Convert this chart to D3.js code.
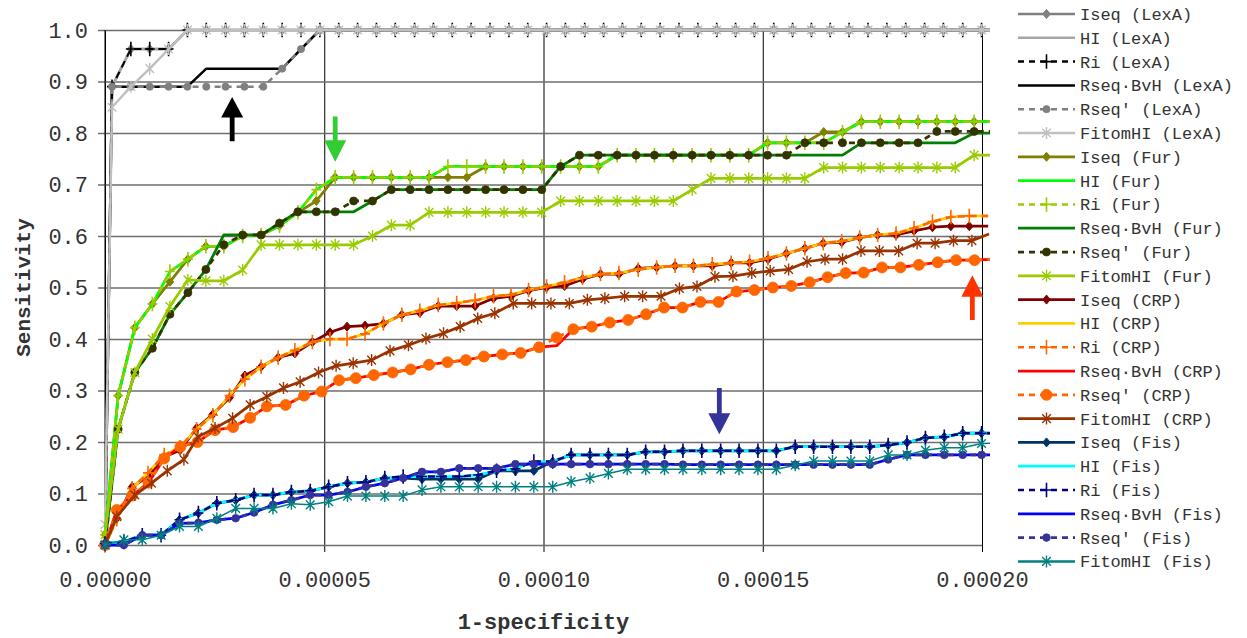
<!DOCTYPE html>
<html>
<head>
<meta charset="utf-8">
<script src="https://cdn.jsdelivr.net/npm/d3@7"></script>
<style>
body { margin: 0; background: #fff; }
text { font-family: "Liberation Mono", "Courier New", monospace; fill: #333; }
</style>
</head>
<body>
<svg id="chart" width="1247" height="638"></svg>
<script>
// 1-specificity values are kept in units of 1e-6
var xTicks = [0, 50, 100, 150, 200];
var yTicks = [0, 0.1, 0.2, 0.3, 0.4, 0.5, 0.6, 0.7, 0.8, 0.9, 1.0];

// ---- LexA ----
var fprLexA = [0, 1.6, 5.9, 10.2, 14.5, 18.8, 23.1, 27.5, 31.8, 36.1, 40.4, 44.7, 49.0, 53.3, 57.6, 61.9, 66.2, 70.6, 74.9, 79.2, 83.5, 87.8, 92.1, 96.4, 100.7, 105.0, 109.4, 113.7, 118.0, 122.3, 126.6, 130.9, 135.2, 139.5, 143.8, 148.1, 152.5, 156.8, 161.1, 165.4, 169.7, 174.0, 178.3, 182.6, 186.9, 191.2, 195.6, 199.9, 204.2];
var iseqLexA = [0, .89, .963, .963, .963,
  1,1,1,1,1,1,1,1,1,1,1, 1,1,1,1,1,1,1,1,1,1,1, 1,1,1,1,1,1,1,1,1,1,1, 1,1,1,1,1,1,1,1,1,1,1];
var hiLexA = [0, .89, .963, .963, .963,
  1,1,1,1,1,1,1,1,1,1,1, 1,1,1,1,1,1,1,1,1,1,1, 1,1,1,1,1,1,1,1,1,1,1, 1,1,1,1,1,1,1,1,1,1,1];
var riLexA = [0, .89, .963, .963, .963,
  1,1,1,1,1,1,1,1,1,1,1, 1,1,1,1,1,1,1,1,1,1,1, 1,1,1,1,1,1,1,1,1,1,1, 1,1,1,1,1,1,1,1,1,1,1];
var bvhLexA = [0, .89, .89, .89, .89, .89, .925, .925, .925, .925, .925, .963,
  1,1,1,1,1,1,1,1,1,1,1,1, 1,1,1,1,1,1,1,1,1,1,1,1, 1,1,1,1,1,1,1,1,1,1,1,1, 1];
var rseqLexA = [0, .89, .89, .89, .89, .89, .89, .89, .89, .89, .925, .963,
  1,1,1,1,1,1,1,1,1,1,1,1, 1,1,1,1,1,1,1,1,1,1,1,1, 1,1,1,1,1,1,1,1,1,1,1,1, 1];
var fitomLexA = [.04, .85, .89, .925, .963,
  1,1,1,1,1,1,1,1,1,1,1, 1,1,1,1,1,1,1,1,1,1,1, 1,1,1,1,1,1,1,1,1,1,1, 1,1,1,1,1,1,1,1,1,1,1];

// ---- Fur ----
var fprFur = [0, 3.0, 6.8, 10.8, 14.8, 18.9, 23.0, 27.1, 31.4, 35.6, 39.8, 44.0, 48.2, 52.5, 56.7, 61.0, 65.3, 69.6, 73.9, 78.2, 82.5, 86.8, 91.0, 95.3, 99.6, 103.9, 108.2, 112.5, 116.8, 121.1, 125.3, 129.6, 133.9, 138.2, 142.5, 146.8, 151.1, 155.4, 159.6, 163.9, 168.2, 172.5, 176.8, 181.1, 185.4, 189.7, 193.9, 198.2, 202.5];
var iseqFur = [.02, .29, .422, .468, .511, .555, .58, .58, .60, .602,
  .62, .646, .668, .714, .714, .714, .714, .714, .714, .714,
  .714, .735, .735, .735, .735, .735, .735, .735, .757, .757,
  .757, .757, .757, .757, .757, .757, .781, .781, .781, .802,
  .802, .822, .822, .822, .822, .822, .822, .822, .822];
var hiFur = [.02, .29, .422, .468, .531, .555, .58, .58, .60, .602,
  .62, .646, .69, .714, .714, .714, .714, .714, .714, .735,
  .735, .735, .735, .735, .735, .735, .735, .735, .757, .757,
  .757, .757, .757, .757, .757, .757, .781, .781, .781, .781,
  .802, .822, .822, .822, .822, .822, .822, .822, .822];
var riFur = [.02, .29, .422, .468, .531, .555, .58, .58, .60, .602,
  .62, .646, .69, .714, .714, .714, .714, .714, .714, .735,
  .735, .735, .735, .735, .735, .735, .735, .735, .757, .757,
  .757, .757, .757, .757, .757, .757, .781, .781, .781, .781,
  .802, .822, .822, .822, .822, .822, .822, .822, .822];
var bvhFur = [0, .225, .335, .382, .448, .49, .535, .602, .602, .602,
  .625, .647, .647, .647, .647, .668, .69, .69, .69, .69,
  .69, .69, .69, .69, .69, .735, .757, .757, .757, .757,
  .757, .757, .757, .757, .757, .757, .757, .757, .757, .757,
  .757, .781, .781, .781, .781, .781, .781, .80, .80];
var rseqFur = [0, .225, .335, .382, .448, .49, .535, .583, .602, .602,
  .625, .647, .647, .647, .668, .668, .69, .69, .69, .69,
  .69, .69, .69, .69, .69, .735, .757, .757, .757, .757,
  .757, .757, .757, .757, .757, .757, .757, .757, .781, .781,
  .781, .781, .781, .781, .781, .803, .803, .803, .803];
var fitomFur = [.02, .225, .335, .40, .463, .515, .513, .513, .534, .583,
  .583, .583, .583, .583, .583, .60, .621, .621, .646, .646,
  .646, .646, .646, .646, .646, .668, .668, .668, .668, .668,
  .668, .668, .69, .712, .712, .712, .712, .712, .712, .733,
  .733, .733, .733, .733, .733, .733, .733, .757, .757];

// ---- CRP ----
var fprCrpA = [0, 2.7, 6.2, 9.8, 13.5, 17.1, 20.9, 24.6, 28.4, 31.9, 35.6, 39.5, 43.3, 47.3, 51.3, 55.2, 59.3, 63.5, 67.7, 71.8, 76.0, 80.2, 84.4, 88.6, 92.6, 96.6, 100.7, 104.8, 108.9, 113.0, 117.2, 121.6, 125.8, 130.0, 134.2, 138.5, 142.8, 147.0, 151.2, 155.4, 159.6, 163.8, 168.0, 172.1, 176.2, 180.4, 184.5, 188.7, 192.9, 197.1, 201.4];
var fprCrpB = [0, 2.7, 6.2, 9.9, 13.5, 17.2, 21.1, 25.1, 29.2, 33.1, 36.9, 41.2, 45.4, 49.4, 53.4, 57.2, 61.3, 65.6, 69.7, 73.9, 78.1, 82.3, 86.4, 90.6, 94.8, 99.0, 103.0, 106.8, 111.0, 115.1, 119.3, 123.4, 127.5, 131.7, 135.8, 139.9, 144.0, 148.1, 152.3, 156.5, 160.7, 164.8, 168.9, 173.0, 177.2, 181.4, 185.6, 189.9, 194.1, 198.3, 202.5];
var fprCrpC = [0, 2.7, 6.8, 10.6, 14.2, 18.0, 21.2, 25.1, 29.1, 33.1, 36.9, 40.7, 44.5, 48.7, 52.7, 56.6, 60.8, 65.0, 69.2, 73.2, 77.2, 81.0, 85.0, 88.9, 93.1, 97.3, 101.7, 105.9, 110.0, 114.0, 118.5, 122.6, 126.8, 131.0, 135.0, 139.1, 143.2, 147.5, 151.7, 155.9, 160.1, 164.2, 168.2, 172.4, 176.6, 181.0, 185.2, 189.3, 193.5, 197.7, 201.6];
var iseqCrp = [0, .052, .113, .133, .171, .184, .227, .254, .286, .329,
  .346, .364, .372, .394, .413, .424, .426, .43, .447, .451,
  .464, .464, .464, .479, .483, .494, .50, .503, .516, .526,
  .526, .537, .539, .542, .542, .542, .548, .548, .555, .566,
  .576, .586, .588, .597, .602, .602, .61, .617, .619, .619, .619];
var hiCrp = [0, .05, .11, .14, .175, .19, .225, .252, .29, .322,
  .346, .364, .378, .394, .40, .40, .41, .43, .447, .455,
  .466, .47, .475, .483, .486, .495, .502, .51, .519, .526,
  .528, .535, .539, .542, .542, .545, .548, .55, .557, .566,
  .576, .586, .59, .597, .602, .605, .615, .628, .637, .639, .639];
var riCrp = [0, .05, .11, .14, .175, .19, .225, .252, .29, .322,
  .346, .364, .378, .394, .40, .40, .41, .43, .447, .455,
  .466, .47, .475, .483, .486, .495, .502, .51, .519, .526,
  .528, .535, .539, .542, .542, .545, .548, .55, .557, .566,
  .576, .586, .59, .597, .602, .605, .615, .628, .637, .639, .639];
var bvhCrp = [0, .068, .096, .121, .168, .191, .20, .223, .229, .247,
  .269, .272, .29, .298, .32, .324, .33, .335, .341, .35,
  .355, .359, .366, .37, .373, .384, .387, .419, .424, .432,
  .437, .448, .461, .461, .472, .472, .492, .495, .50, .503,
  .51, .52, .528, .529, .539, .539, .544, .549, .553, .553, .555];
var rseqCrp = [0, .068, .096, .121, .168, .191, .20, .223, .229, .247,
  .269, .272, .29, .298, .32, .324, .33, .335, .341, .35,
  .355, .359, .366, .37, .373, .384, .403, .419, .424, .432,
  .437, .448, .461, .461, .472, .472, .492, .495, .50, .503,
  .51, .52, .528, .529, .539, .539, .544, .549, .553, .553, .555];
var fitomCrp = [0, .055, .097, .12, .144, .166, .21, .227, .246, .272,
  .288, .305, .317, .335, .348, .353, .359, .377, .388, .401,
  .411, .424, .44, .45, .469, .469, .469, .469, .476, .479,
  .483, .483, .483, .498, .502, .521, .522, .528, .532, .535,
  .55, .555, .555, .571, .571, .571, .586, .586, .591, .591, .604];

// ---- Fis ----
var fprFis = [0, 4.3, 8.5, 12.8, 17.0, 21.3, 25.5, 29.8, 34.0, 38.3, 42.5, 46.8, 51.0, 55.3, 59.5, 63.8, 68.0, 72.3, 76.6, 80.8, 85.1, 89.3, 93.6, 97.8, 102.1, 106.3, 110.6, 114.8, 119.1, 123.3, 127.6, 131.8, 136.1, 140.4, 144.6, 148.9, 153.1, 157.4, 161.6, 165.9, 170.1, 174.4, 178.6, 182.9, 187.1, 191.4, 195.6, 199.9, 204.1];
var iseqFis = [.003, .006, .019, .019, .049, .062, .081, .087, .097, .097,
  .103, .105, .113, .12, .122, .13, .13, .128, .128, .128,
  .128, .144, .144, .144, .162, .175, .175, .175, .175, .181,
  .181, .183, .183, .183, .183, .183, .183, .191, .191, .191,
  .191, .191, .194, .199, .208, .21, .217, .217, .217];
var hiFis = [.003, .006, .019, .019, .049, .062, .081, .087, .097, .097,
  .103, .105, .113, .12, .122, .13, .133, .133, .133, .133,
  .136, .144, .148, .162, .162, .175, .175, .175, .175, .181,
  .181, .183, .183, .183, .183, .183, .183, .191, .191, .191,
  .191, .191, .194, .199, .208, .21, .217, .217, .217];
var riFis = [.003, .006, .019, .019, .049, .062, .081, .087, .097, .097,
  .103, .105, .113, .12, .122, .13, .133, .133, .133, .133,
  .136, .144, .148, .162, .162, .175, .175, .175, .175, .181,
  .181, .183, .183, .183, .183, .183, .183, .191, .191, .191,
  .191, .191, .194, .199, .208, .21, .217, .217, .217];
var bvhFis = [0, 0, .019, .019, .042, .043, .049, .052, .063, .078,
  .087, .097, .097, .103, .113, .12, .13, .142, .142, .149,
  .149, .149, .157, .157, .157, .157, .157, .157, .157, .157,
  .157, .156, .156, .156, .156, .156, .156, .156, .156, .156,
  .156, .156, .166, .175, .175, .175, .175, .175, .175];
var rseqFis = [0, 0, .019, .019, .042, .043, .049, .052, .063, .078,
  .087, .097, .097, .103, .113, .12, .13, .142, .142, .149,
  .149, .149, .157, .157, .157, .157, .157, .157, .157, .157,
  .157, .156, .156, .156, .156, .156, .156, .156, .156, .156,
  .156, .156, .166, .175, .175, .175, .175, .175, .175];
var fitomFis = [0, .01, .01, .019, .036, .036, .052, .071, .071, .071,
  .08, .078, .084, .095, .095, .095, .095, .107, .113, .113,
  .113, .113, .113, .113, .113, .123, .13, .139, .147, .147,
  .147, .147, .147, .147, .147, .147, .147, .155, .163, .163,
  .163, .163, .175, .175, .184, .189, .189, .197, .198];

// arrows: x position, tip / head base / tail in sensitivity units
var arrowX = [29.0, 52.5, 140.1, 197.8];
var arrowTip = [.870, .744, .215, .524];
var arrowBase = [.830, .786, .256, .482];
var arrowTail = [.784, .832, .305, .437];
var arrowColors = ["#000000", "#33cc33", "#333399", "#ff3300"];

// series table (legend order = draw order)
var series = [
  {name: "Iseq (LexA)", x: fprLexA, y: iseqLexA, color: "#808080", w: 2.5, mark: "diamond", ms: 4.5},
  {name: "HI (LexA)", x: fprLexA, y: hiLexA, color: "#a6a6a6", w: 2.5},
  {name: "Ri (LexA)", x: fprLexA, y: riLexA, color: "#000000", w: 2, dash: "7,5", mark: "plus", ms: 5},
  {name: "Rseq\u00b7BvH (LexA)", x: fprLexA, y: bvhLexA, color: "#000000", w: 2.5},
  {name: "Rseq' (LexA)", x: fprLexA, y: rseqLexA, color: "#808080", w: 2.5, dash: "6,5", mark: "circle", ms: 3.6},
  {name: "FitomHI (LexA)", x: fprLexA, y: fitomLexA, color: "#c0c0c0", w: 2.5, mark: "star", ms: 6},
  {name: "Iseq (Fur)", x: fprFur, y: iseqFur, color: "#808000", w: 2.75, mark: "diamond", ms: 4.5},
  {name: "HI (Fur)", x: fprFur, y: hiFur, color: "#00ff00", w: 2.75},
  {name: "Ri (Fur)", x: fprFur, y: riFur, color: "#99cc00", w: 2.5, dash: "7,5", mark: "plus", ms: 5},
  {name: "Rseq\u00b7BvH (Fur)", x: fprFur, y: bvhFur, color: "#008000", w: 2.75},
  {name: "Rseq' (Fur)", x: fprFur, y: rseqFur, color: "#333300", w: 2.75, dash: "6,5", mark: "circle", ms: 4},
  {name: "FitomHI (Fur)", x: fprFur, y: fitomFur, color: "#99cc00", w: 2.75, mark: "star", ms: 6},
  {name: "Iseq (CRP)", x: fprCrpA, y: iseqCrp, color: "#800000", w: 2.75, mark: "diamond", ms: 4.5},
  {name: "HI (CRP)", x: fprCrpA, y: hiCrp, color: "#ffcc00", w: 2.75},
  {name: "Ri (CRP)", x: fprCrpA, y: riCrp, color: "#ff6600", w: 2.5, dash: "7,5", mark: "plus", ms: 5},
  {name: "Rseq\u00b7BvH (CRP)", x: fprCrpB, y: bvhCrp, color: "#ff0000", w: 2.75},
  {name: "Rseq' (CRP)", x: fprCrpB, y: rseqCrp, color: "#ff6600", w: 2.75, dash: "6,5", mark: "circle", ms: 5.5},
  {name: "FitomHI (CRP)", x: fprCrpC, y: fitomCrp, color: "#993300", w: 2.75, mark: "star", ms: 6},
  {name: "Iseq (Fis)", x: fprFis, y: iseqFis, color: "#003366", w: 2.75, mark: "diamond", ms: 4.5},
  {name: "HI (Fis)", x: fprFis, y: hiFis, color: "#00ffff", w: 2.75},
  {name: "Ri (Fis)", x: fprFis, y: riFis, color: "#000080", w: 2.5, dash: "7,5", mark: "plus", ms: 5},
  {name: "Rseq\u00b7BvH (Fis)", x: fprFis, y: bvhFis, color: "#0000ff", w: 2.75},
  {name: "Rseq' (Fis)", x: fprFis, y: rseqFis, color: "#333399", w: 2.75, dash: "6,5", mark: "circle", ms: 3.8},
  {name: "FitomHI (Fis)", x: fprFis, y: fitomFis, color: "#008080", w: 1.5, mark: "star", ms: 6}
];

var svg = d3.select("#chart");

var x = d3.scaleLinear().domain([0, 200]).range([105, 982]);
var y = d3.scaleLinear().domain([0, 1]).range([545, 30]);

// vertical gridlines (black) + x ticks
svg.append("g")
  .attr("transform", "translate(0,545)")
  .call(d3.axisBottom(x).tickValues(xTicks).tickSize(-515).tickSizeOuter(0).tickFormat(""))
  .call(g => g.select(".domain").remove())
  .call(g => g.selectAll("line").attr("stroke", "#000").attr("stroke-width", 1));

svg.append("g")
  .attr("transform", "translate(0,545)")
  .call(d3.axisBottom(x).tickValues(xTicks).tickSize(7).tickPadding(19)
    .tickFormat(d => (d * 1e-6).toFixed(5)))
  .call(g => g.select(".domain").remove())
  .call(g => g.selectAll("line").attr("stroke", "#000"))
  .call(g => g.selectAll("text").style("font-size", "22px").attr("fill", "#333")
    .style("font-family", "'Liberation Mono', monospace"));

// horizontal gridlines (gray), sticking out left as ticks
svg.append("g")
  .attr("transform", "translate(105,0)")
  .call(d3.axisLeft(y).tickValues(yTicks).tickSize(-877).tickSizeOuter(0).tickFormat(""))
  .call(g => g.select(".domain").remove())
  .call(g => g.selectAll("line").attr("stroke", "#6e6e6e").attr("stroke-width", 1.5));

svg.append("g")
  .attr("transform", "translate(105,0)")
  .call(d3.axisLeft(y).tickValues(yTicks).tickSize(7).tickPadding(10).tickFormat(d3.format(".1f")))
  .call(g => g.select(".domain").remove())
  .call(g => g.selectAll("line").attr("stroke", "#6e6e6e").attr("stroke-width", 1.5))
  .call(g => g.selectAll("text").style("font-size", "22px").attr("fill", "#333")
    .style("font-family", "'Liberation Mono', monospace"));

// y axis line
svg.append("line")
  .attr("x1", x(0)).attr("x2", x(0)).attr("y1", y(1)).attr("y2", y(0))
  .attr("stroke", "#000").attr("stroke-width", 1);

// axis titles
svg.append("text")
  .attr("x", (x(0) + x(200)) / 2).attr("y", 629)
  .attr("text-anchor", "middle")
  .style("font-size", "22px").style("font-weight", "bold").attr("fill", "#222")
  .text("1-specificity");

svg.append("text")
  .attr("transform", `translate(30, ${(y(0) + y(1)) / 2}) rotate(-90)`)
  .attr("text-anchor", "middle")
  .style("font-size", "21px").style("font-weight", "bold").attr("fill", "#222")
  .text("Sensitivity");

// clip lines just past the right edge
svg.append("clipPath").attr("id", "plotclip")
  .append("rect").attr("x", 95).attr("y", 0).attr("width", 990 - 95).attr("height", 560);

function markerPath(type, s) {
  if (type === "diamond") return `M0,${-s}L${s * 0.85},0L0,${s}L${-s * 0.85},0Z`;
  if (type === "plus") return `M0,${-s * 1.45}V${s * 1.45}M${-s},0H${s}`;
  if (type === "star") {
    var a = s * 0.72;
    return `M0,${-s}V${s}M${-a},${-a}L${a},${a}M${-a},${a}L${a},${-a}`;
  }
  return "";
}

function drawMarker(g, type, s, color) {
  if (type === "circle") {
    g.append("circle").attr("r", s).attr("fill", color).attr("stroke", color).attr("stroke-width", 0.8);
  } else if (type === "diamond") {
    g.append("path").attr("d", markerPath(type, s)).attr("fill", color).attr("stroke", color).attr("stroke-width", 1);
  } else {
    g.append("path").attr("d", markerPath(type, s)).attr("fill", "none").attr("stroke", color)
      .attr("stroke-width", type === "plus" ? 1.6 : 1.4);
  }
}

var line = d3.line().x(d => x(d[0])).y(d => y(d[1]));
var plot = svg.append("g");

series.forEach(function(s) {
  var n = Math.min(s.x.length, s.y.length);
  var pts = d3.range(n).map(i => [s.x[i], s.y[i]]);

  plot.append("path")
    .datum(pts)
    .attr("clip-path", "url(#plotclip)")
    .attr("d", line)
    .attr("fill", "none")
    .attr("stroke", s.color)
    .attr("stroke-width", s.w)
    .attr("stroke-dasharray", s.dash || null)
    .attr("stroke-linejoin", "round");

  if (s.mark) {
    pts.filter(d => d[0] <= 200).forEach(function(d) {
      var g = plot.append("g").attr("transform", `translate(${x(d[0])},${y(d[1])})`);
      drawMarker(g, s.mark, s.ms, s.color);
    });
  }
});

// arrows
arrowX.forEach(function(ax, i) {
  var cx = x(ax), tip = y(arrowTip[i]), base = y(arrowBase[i]), tail = y(arrowTail[i]);
  var hw = 11, sw = 2.4;
  svg.append("path")
    .attr("d", `M${cx},${tip}L${cx + hw},${base}L${cx + sw},${base}L${cx + sw},${tail}L${cx - sw},${tail}L${cx - sw},${base}L${cx - hw},${base}Z`)
    .attr("fill", arrowColors[i]);
});

// legend
var legend = svg.append("g");
series.forEach(function(s, i) {
  var ry = 14 + i * 23.8;
  var g = legend.append("g").attr("transform", `translate(0,${ry})`);
  g.append("line")
    .attr("x1", 1018).attr("x2", 1075).attr("y1", 0).attr("y2", 0)
    .attr("stroke", s.color).attr("stroke-width", Math.max(s.w, 2.5))
    .attr("stroke-dasharray", s.dash ? "6,5" : null);
  if (s.mark) {
    var mg = g.append("g").attr("transform", "translate(1046.5,0)");
    drawMarker(mg, s.mark, s.ms, s.color);
  }
  g.append("text")
    .attr("x", 1080).attr("y", 6)
    .style("font-size", "17px")
    .attr("fill", "#333")
    .text(s.name);
});
</script>
</body>
</html>
